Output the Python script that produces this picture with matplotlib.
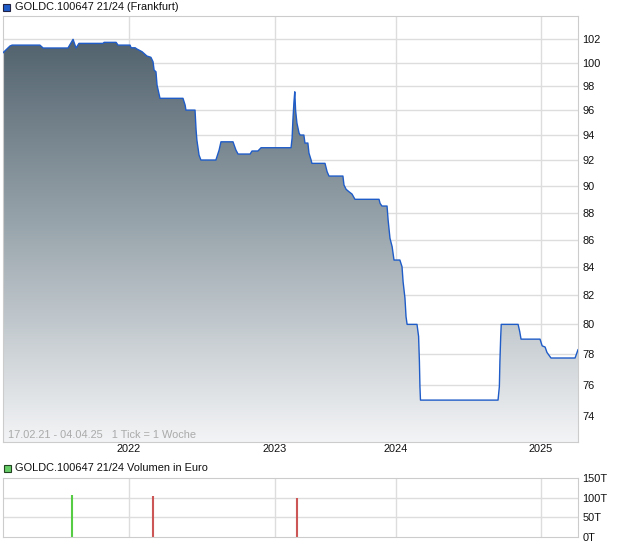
import numpy as np
import matplotlib
matplotlib.use("Agg")
import matplotlib.pyplot as plt
from matplotlib.colors import LinearSegmentedColormap
from matplotlib.patches import PathPatch, Rectangle

plt.rcParams['font.family'] = ['Liberation Sans', 'DejaVu Sans']

# ---- data (x = week index, 1 tick = 1 week) ----
weeks = [0, 2.6, 3.4, 13.8, 15.0, 24.3, 26.2, 27.3, 28.4, 37.4, 37.8, 42.3, 43.0, 47.5,
         47.9, 49.4, 50.1, 52.0, 53.8, 55.3, 56.1, 56.5, 57.2, 57.6, 58.7, 67.3, 68.1,
         68.4, 71.8, 72.2, 72.5, 73.3, 74.0, 79.6, 80.8, 81.5, 86.0, 87.1, 87.9, 92.4,
         93.1, 95.3, 96.5, 107.7, 108.1, 108.4, 108.8, 109.1, 109.4, 109.9, 110.7, 111.1,
         112.5, 112.9, 114.0, 114.4, 115.2, 115.5, 120.4, 121.2, 121.9, 127.1, 127.5,
         128.3, 129.4, 130.5, 131.6, 140.6, 141.0, 141.7, 143.6, 144.0, 144.7, 145.5,
         146.2, 148.4, 149.2, 149.6, 150.3, 150.7, 151.1, 154.8, 155.4, 155.7, 155.9,
         156.1, 185.1, 185.6, 185.8, 186.1, 186.3, 192.6, 193.2, 193.7, 200.8, 201.6,
         202.7, 203.4, 204.9, 213.9, 215.0]
prices = [100.84, 101.42, 101.50, 101.50, 101.25, 101.25, 102.0, 101.25, 101.65, 101.65,
          101.74, 101.74, 101.50, 101.50, 101.27, 101.27, 101.16, 100.93, 100.56, 100.45,
          100.07, 99.36, 99.22, 98.10, 97.0, 97.0, 96.44, 96.03, 96.03, 94.41, 93.61,
          92.42, 92.03, 92.03, 92.81, 93.47, 93.47, 92.81, 92.50, 92.50, 92.74, 92.74,
          93.0, 93.0, 93.77, 95.22, 96.72, 97.54, 96.03, 94.98, 94.17, 94.01, 94.01,
          93.37, 93.37, 92.58, 92.03, 91.77, 91.77, 91.11, 90.78, 90.78, 90.09, 89.76,
          89.57, 89.40, 89.00, 89.00, 88.69, 88.49, 88.49, 87.44, 86.09, 85.48, 84.51,
          84.51, 84.03, 82.96, 81.80, 80.53, 80.0, 80.0, 79.18, 77.51, 75.88, 75.0, 75.0,
          75.88, 77.51, 79.18, 80.0, 80.0, 79.52, 79.0, 79.0, 78.55, 78.47, 78.11, 77.74,
          77.74, 78.29]

year_pos = [47.1, 101.7, 146.9, 201.2]
year_labels = ['2022', '2023', '2024', '2025']
price_ticks = [74, 76, 78, 80, 82, 84, 86, 88, 90, 92, 94, 96, 98, 100, 102]

vol_weeks = [25.8, 56.1, 109.9]
vol_values = [107, 103, 99]  # thousands of euro
vol_colors = ['#55cc44', '#cc5555', '#cc5555']
vol_ticks = [0, 50, 100, 150]
vol_tick_labels = ['0T', '50T', '100T', '150T']

title_main = 'GOLDC.100647 21/24 (Frankfurt)'
title_vol = 'GOLDC.100647 21/24 Volumen in Euro'
note = '17.02.21 - 04.04.25   1 Tick = 1 Woche'

W, H = 620, 546
fig = plt.figure(figsize=(W / 100, H / 100), dpi=100)

def fx(px):
    return px / W

def fy(py):
    return 1 - py / H

grid_c = '#dddddd'
spine_c = '#cccccc'
line_c = '#1f5cc8'
fs = 7.9

# ---- main panel ----
ax = fig.add_axes([fx(3), fy(441.5), fx(578) - fx(3), fy(16) - fy(441.5)])
ax.set_yscale('log')

for yv in price_ticks:
    ax.axhline(yv, color=grid_c, lw=1, zorder=0)
for xv in year_pos:
    ax.axvline(xv, color=grid_c, lw=1, zorder=0)

poly = ax.fill_between(weeks, prices, 60, color='none', lw=0)
cmap = LinearSegmentedColormap.from_list('g', ['#495a66', '#9aa6ad', '#f3f4f6'])
grad = np.linspace(0, 1, 256).reshape(-1, 1)
im = ax.imshow(grad, extent=[0, 1, 0, 1], transform=ax.transAxes, aspect='auto',
               cmap=cmap, origin='upper', zorder=1)
clip = PathPatch(poly.get_paths()[0], transform=ax.transData,
                 facecolor='none', edgecolor='none')
ax.add_patch(clip)
im.set_clip_path(clip)

ax.plot(weeks, prices, color=line_c, lw=1.0, zorder=3)
ax.set_xlim(0, 215)
ax.set_ylim(72.4, 104.05)

ax.yaxis.tick_right()
ax.set_yticks(price_ticks)
ax.set_yticklabels([str(t) for t in price_ticks])
ax.yaxis.set_minor_locator(matplotlib.ticker.NullLocator())
ax.yaxis.set_minor_formatter(matplotlib.ticker.NullFormatter())
ax.set_xticks(year_pos)
ax.set_xticklabels(year_labels)
ax.tick_params(axis='both', length=0, labelsize=fs, colors='#111111')
ax.tick_params(axis='x', pad=2)
ax.tick_params(axis='y', pad=3)
for s in ax.spines.values():
    s.set_color(spine_c)

fig.text(fx(8), fy(435), note, fontsize=fs, color='#aaaaaa', va='center', ha='left')

# ---- volume panel ----
av = fig.add_axes([fx(3), fy(537), fx(578) - fx(3), fy(478) - fy(537)])
for yv in [50, 100]:
    av.axhline(yv, color=grid_c, lw=1, zorder=0)
for xv in year_pos:
    av.axvline(xv, color=grid_c, lw=1, zorder=0)
av.vlines(vol_weeks, 0, vol_values, colors=vol_colors, lw=1.5, zorder=2)
av.set_xlim(0, 215)
av.set_ylim(0, 150)
av.yaxis.tick_right()
av.set_yticks(vol_ticks)
av.set_yticklabels(vol_tick_labels)
av.set_xticks([])
av.tick_params(axis='both', length=0, labelsize=fs, colors='#111111', pad=3)
for s in av.spines.values():
    s.set_color(spine_c)

# ---- titles with square markers ----
fig.patches.append(Rectangle((fx(3), fy(11)), fx(7), 7 / H, transform=fig.transFigure,
                             facecolor='#1f5cc8', edgecolor='#222244', lw=0.8))
fig.text(fx(15), fy(7), title_main, fontsize=fs, va='center', ha='left', color='#111111')
fig.patches.append(Rectangle((fx(4), fy(472)), fx(7), 7 / H, transform=fig.transFigure,
                             facecolor='#66cc66', edgecolor='#224422', lw=0.8))
fig.text(fx(15), fy(468), title_vol, fontsize=fs, va='center', ha='left', color='#111111')

fig.savefig('out.png', dpi=100)
